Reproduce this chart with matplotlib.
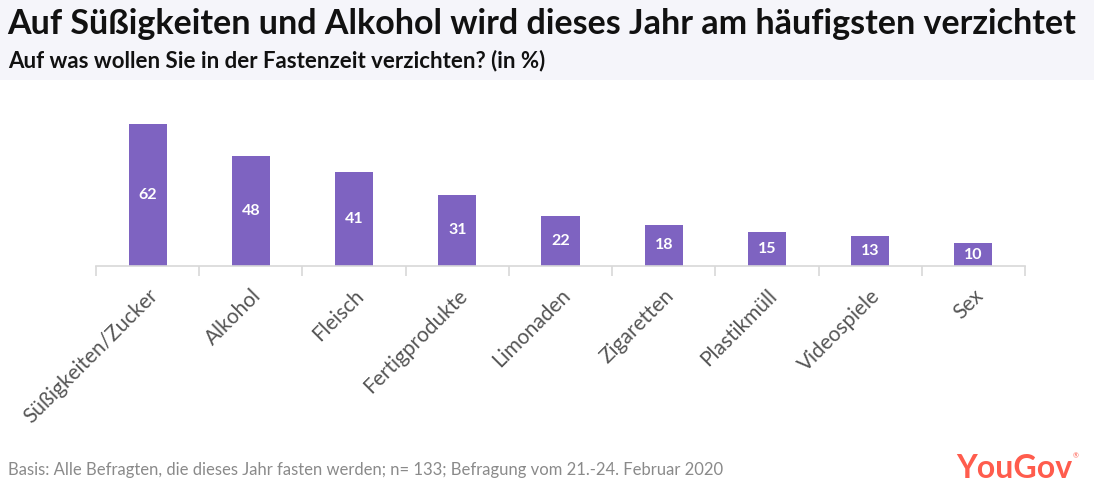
import matplotlib.pyplot as plt
from matplotlib.patches import Rectangle

categories = ['Süßigkeiten/Zucker', 'Alkohol', 'Fleisch', 'Fertigprodukte', 'Limonaden',
              'Zigaretten', 'Plastikmüll', 'Videospiele', 'Sex']
values = [62, 48, 41, 31, 22, 18, 15, 13, 10]

title = 'Auf Süßigkeiten und Alkohol wird dieses Jahr am häufigsten verzichtet'
subtitle = 'Auf was wollen Sie in der Fastenzeit verzichten? (in %)'
footer = 'Basis: Alle Befragten, die dieses Jahr fasten werden; n= 133; Befragung vom 21.-24. Februar 2020'

W, H = 1094, 492
fig = plt.figure(figsize=(W / 100, H / 100), dpi=100)
fig.patch.set_facecolor('white')

# header band
fig.patches.append(Rectangle((0, 1 - 80 / H), 1, 80 / H, transform=fig.transFigure,
                             facecolor='#f5f5fa', edgecolor='none', zorder=0))
fig.text(7 / W, 1 - 24 / H, title, fontsize=24.5, fontweight='bold', family='Lato',
         color='#111111', va='center', ha='left')
fig.text(8 / W, 1 - 61 / H, subtitle, fontsize=16, fontweight='bold', family='Lato',
         color='#111111', va='center', ha='left')

ax = fig.add_axes([96 / W, 1 - 266 / H, (1025 - 96) / W, 172 / H])
x = range(len(categories))
ax.bar(x, values, width=0.37, color='#7e63c1', zorder=2)
for i, v in zip(x, values):
    ax.text(i, v / 2, str(v), ha='center', va='center', color='white',
            fontsize=11.5, fontweight='bold', family='Lato')

ax.set_xlim(-0.5, len(categories) - 0.5)
ax.set_ylim(0, 75)
ax.set_yticks([])
for s in ['top', 'right', 'left']:
    ax.spines[s].set_visible(False)
ax.spines['bottom'].set_color('#d8d8d8')
ax.spines['bottom'].set_linewidth(1.2)
ax.set_xticks([i - 0.5 for i in range(len(categories) + 1)], minor=False)
ax.set_xticklabels([])
ax.tick_params(axis='x', which='major', length=7, color='#d8d8d8', width=1.2)
ax.set_xticks(list(x), minor=True)
ax.set_xticklabels(categories, minor=True, rotation=45, ha='right', va='top',
                   rotation_mode='anchor', fontsize=15, family='Lato', fontweight='normal',
                   color='#555555')
ax.tick_params(axis='x', which='minor', length=0, pad=14)

fig.text(8 / W, 1 - 470 / H, footer, fontsize=12, family='Lato', fontweight='normal',
         color='#8a8a8a', va='center', ha='left')
fig.text(1072 / W, 1 - 468 / H, 'YouGov', fontsize=23, fontweight='bold', family='Lato',
         color='#ff5c4d', va='center', ha='right')
fig.text(1076 / W, 1 - 456 / H, '®', fontsize=5, family='Lato',
         color='#ff5c4d', va='center', ha='center')

fig.savefig('out.png', dpi=100)
